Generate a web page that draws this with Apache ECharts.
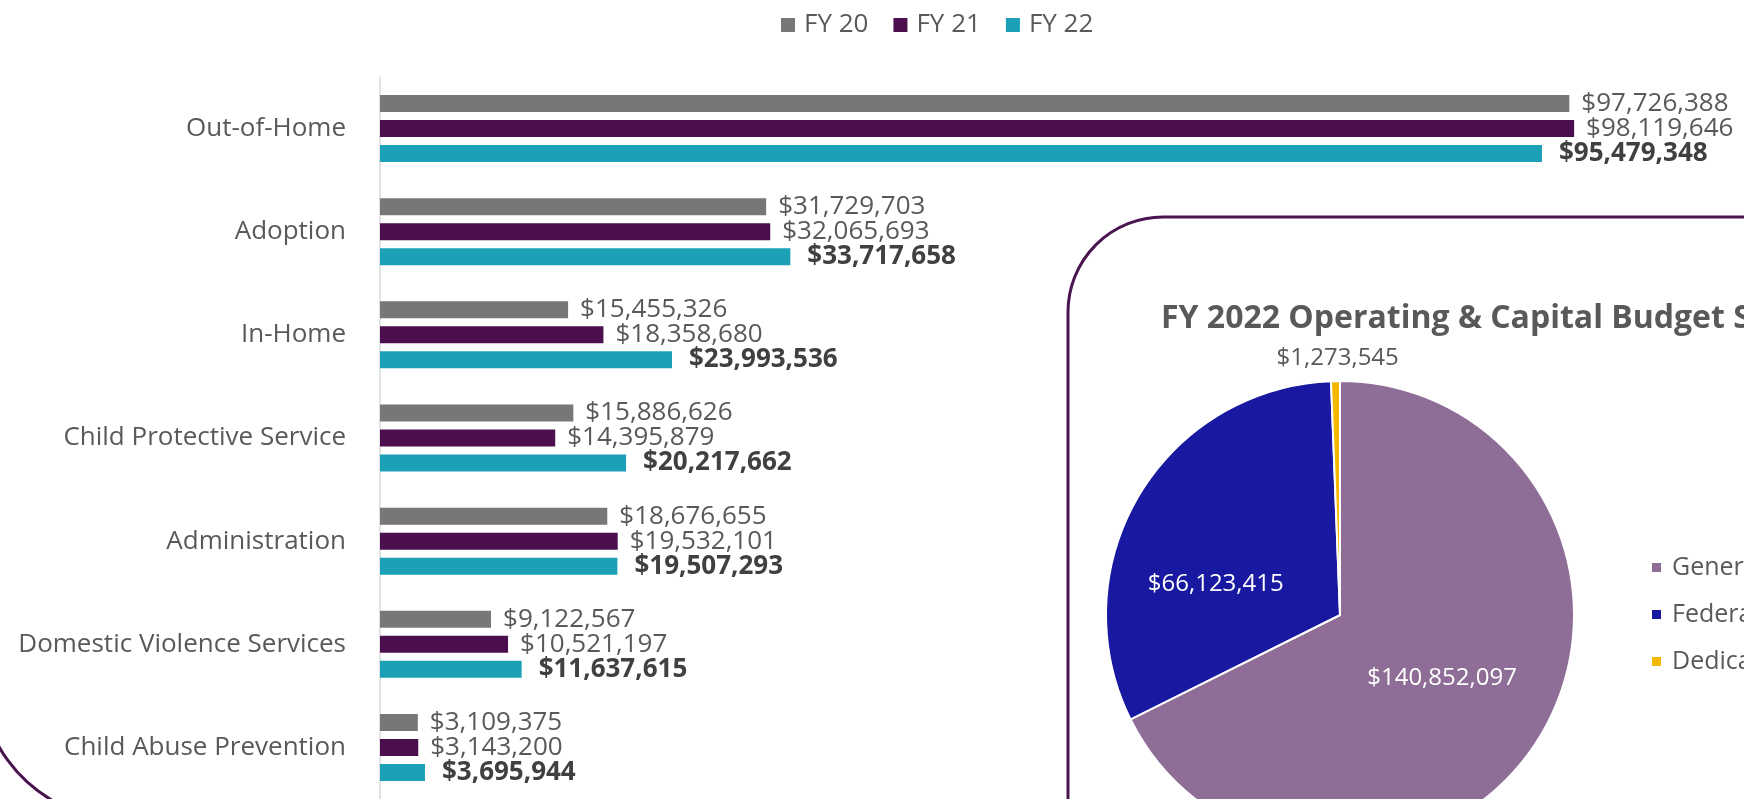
<!DOCTYPE html>
<html>
<head>
<meta charset="utf-8">
<title>Budget by program</title>
<script src="https://cdn.jsdelivr.net/npm/echarts@6/dist/echarts.min.js"></script>
<style>
  html, body { margin: 0; padding: 0; background: #fff; }
  #chart { width: 1744px; height: 799px; }
</style>
</head>
<body>
<div id="chart"></div>
<script>
// program spending by year
const categories = ['Out-of-Home', 'Adoption', 'In-Home', 'Child Protective Service', 'Administration', 'Domestic Violence Services', 'Child Abuse Prevention']
const fy20 = [97726388, 31729703, 15455326, 15886626, 18676655, 9122567, 3109375]
const fy21 = [98119646, 32065693, 18358680, 14395879, 19532101, 10521197, 3143200]
const fy22 = [95479348, 33717658, 23993536, 20217662, 19507293, 11637615, 3695944]
const yearNames = ['FY 20', 'FY 21', 'FY 22']

// FY 2022 sources
const sourceNames = ['General Fund', 'Federal Funds', 'Dedicated Funds']
const sourceValues = [140852097, 66123415, 1273545]

const font = '"Open Sans", "Noto Sans", sans-serif'
const grey = '#595959'
const money = v => '$' + Number(v).toLocaleString('en-US')

function barSeries(name, data, color, bold) {
  return {
    name: name,
    type: 'bar',
    data: data,
    barWidth: 17,
    barGap: '47%',
    itemStyle: { color: color },
    label: {
      show: true,
      position: 'right',
      distance: bold ? 17 : 12,
      formatter: p => money(p.value),
      fontFamily: font,
      fontSize: 26,
      fontWeight: bold ? 'bold' : 'normal',
      color: bold ? '#404040' : grey
    },
    animation: false
  }
}

const chart = echarts.init(document.getElementById('chart'))

chart.setOption({
  textStyle: { fontFamily: font },
  graphic: [
    {
      type: 'rect',
      z: -1,
      shape: { x: 1068, y: 217, width: 900, height: 700, r: 95 },
      style: { fill: '#fff', stroke: '#4a1450', lineWidth: 3 }
    },
    {
      type: 'arc',
      shape: { cx: 125, cy: 675, r: 145, startAngle: Math.PI * 0.55, endAngle: Math.PI * 1.05 },
      style: { fill: 'none', stroke: '#4a1450', lineWidth: 3 }
    }
  ],
  title: {
    text: 'FY 2022 Operating & Capital Budget Sources',
    left: 1161,
    top: 303,
    padding: 0,
    textStyle: { fontFamily: font, fontSize: 32, fontWeight: 'bold', color: grey }
  },
  legend: [
    {
      data: yearNames,
      left: 781,
      top: 12,
      padding: 0,
      icon: 'rect',
      itemWidth: 14,
      itemHeight: 14,
      itemGap: 25,
      textStyle: { fontFamily: font, fontSize: 26, color: grey, padding: [0, 0, 0, 4] }
    },
    {
      data: sourceNames,
      orient: 'vertical',
      left: 1650,
      top: 555,
      padding: 0,
      icon: 'rect',
      itemWidth: 11,
      itemHeight: 11,
      itemGap: 22,
      textStyle: { fontFamily: font, fontSize: 25, color: grey, padding: [0, 0, 0, 5] }
    }
  ],
  grid: {
    left: 380,
    top: 77,
    width: 1217,
    height: 731
  },
  xAxis: {
    type: 'value',
    min: 0,
    max: 100000000,
    show: false
  },
  yAxis: {
    type: 'category',
    data: categories,
    inverse: true,
    axisTick: { show: false },
    axisLine: { lineStyle: { color: '#d9d9d9', width: 1.5 } },
    axisLabel: { fontFamily: font, fontSize: 26, color: grey, margin: 34 }
  },
  series: [
    barSeries('FY 20', fy20, '#777777', false),
    barSeries('FY 21', fy21, '#4b0f50', false),
    barSeries('FY 22', fy22, '#1ba0b6', true),
    {
      name: 'Sources',
      type: 'pie',
      center: [1340, 615],
      radius: 234,
      startAngle: 90,
      animation: false,
      itemStyle: { borderColor: '#fff', borderWidth: 2 },
      label: {
        show: true,
        position: 'inside',
        formatter: p => money(p.value),
        fontFamily: font,
        fontSize: 24,
        color: '#fff'
      },
      labelLine: { show: false },
      data: [
        { name: sourceNames[0], value: sourceValues[0], itemStyle: { color: '#8e6e96' } },
        { name: sourceNames[1], value: sourceValues[1], itemStyle: { color: '#1818a0' }, label: { offset: [-21, 30] } },
        { name: sourceNames[2], value: sourceValues[2], itemStyle: { color: '#f5b800' }, label: { color: grey, offset: [0, -137] } }
      ]
    }
  ]
})
</script>
</body>
</html>
